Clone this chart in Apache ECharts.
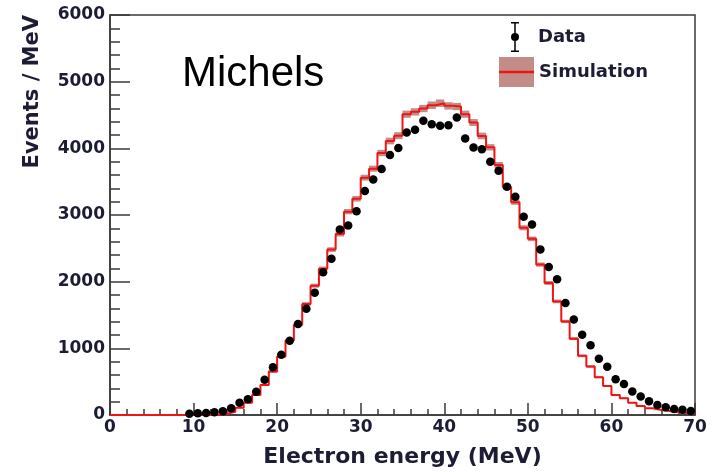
<!DOCTYPE html>
<html>
<head>
<meta charset="utf-8">
<style>
  html, body { margin: 0; padding: 0; background: #fff; }
  #main { width: 713px; height: 472px; }
</style>
<script src="https://cdn.jsdelivr.net/npm/echarts/dist/echarts.min.js"></script>
</head>
<body>
<div id="main"></div>
<script>
// 1 MeV bins, lower edges 0..69
var binLow = [0, 1, 2, 3, 4, 5, 6, 7, 8, 9, 10, 11, 12, 13, 14, 15, 16, 17, 18, 19,
  20, 21, 22, 23, 24, 25, 26, 27, 28, 29, 30, 31, 32, 33, 34, 35, 36, 37, 38, 39,
  40, 41, 42, 43, 44, 45, 46, 47, 48, 49, 50, 51, 52, 53, 54, 55, 56, 57, 58, 59,
  60, 61, 62, 63, 64, 65, 66, 67, 68, 69];
var binWidth = 1;

// simulation histogram (events / MeV), one per bin
var simVals = [0, 0, 0, 0, 0, 0, 0, 0, 0, 0, 0, 0, 0, 20, 50, 110, 185, 300, 451, 651,
  877, 1118, 1354, 1665, 1940, 2195, 2481, 2715, 3050, 3244, 3560, 3695, 3930, 4110, 4190, 4512, 4547, 4597, 4647, 4677,
  4637, 4627, 4512, 4387, 4186, 4015, 3750, 3420, 3193, 2808, 2642, 2256, 1981, 1704, 1403, 1145, 887, 727, 567, 436,
  301, 251, 185, 135, 100, 75, 60, 40, 30, 20];

// half height of the simulation uncertainty band
var simErr = [0, 0, 0, 0, 0, 0, 0, 0, 0, 0, 0, 0, 0, 4, 6, 8, 10, 12, 15, 18,
  20, 22, 25, 28, 30, 32, 35, 38, 40, 42, 44, 46, 48, 50, 52, 54, 55, 55, 56, 56,
  55, 55, 54, 52, 50, 48, 45, 42, 40, 38, 35, 32, 30, 28, 25, 22, 20, 18, 15, 12,
  10, 9, 8, 7, 5, 4, 4, 3, 3, 2];

// data points, bin centres 9.5 .. 69.5
var dataX = [9.5, 10.5, 11.5, 12.5, 13.5, 14.5, 15.5, 16.5, 17.5, 18.5, 19.5,
  20.5, 21.5, 22.5, 23.5, 24.5, 25.5, 26.5, 27.5, 28.5, 29.5,
  30.5, 31.5, 32.5, 33.5, 34.5, 35.5, 36.5, 37.5, 38.5, 39.5,
  40.5, 41.5, 42.5, 43.5, 44.5, 45.5, 46.5, 47.5, 48.5, 49.5,
  50.5, 51.5, 52.5, 53.5, 54.5, 55.5, 56.5, 57.5, 58.5, 59.5,
  60.5, 61.5, 62.5, 63.5, 64.5, 65.5, 66.5, 67.5, 68.5, 69.5];
var dataVals = [20, 25, 30, 40, 55, 100, 185, 235, 350, 527, 717,
  902, 1113, 1364, 1595, 1835, 2143, 2342, 2782, 2843, 3058,
  3359, 3534, 3690, 3900, 4005, 4237, 4277, 4412, 4362, 4337,
  4347, 4462, 4147, 4011, 3986, 3800, 3665, 3425, 3274, 2973,
  2858, 2482, 2221, 2035, 1680, 1434, 1203, 1045, 845, 722,
  537, 464, 351, 276, 205, 150, 115, 90, 80, 60];

var axisColor = "#3a3a3a";
var textColor = "#1c1c34";
var bandColor = "rgba(168, 92, 82, 0.7)";
var lineRed = "#f01414";

var myChart = echarts.init(document.getElementById("main"));

// step line: one point per lower edge plus the closing edge
var simLine = binLow.map(function(x, i) {
  return [x, simVals[i]];
});
simLine.push([binLow[binLow.length - 1] + binWidth, simVals[simVals.length - 1]]);

var bandData = binLow.map(function(x, i) {
  return [x, x + binWidth, simVals[i] - simErr[i], simVals[i] + simErr[i]];
});

var legendText = {
  fontFamily: "DejaVu Sans",
  fontWeight: "bold",
  fontSize: 18,
  color: textColor
};

myChart.setOption({
  animation: false,
  title: {
    text: "Michels",
    left: 177,
    top: 48,
    textStyle: {
      fontFamily: "Liberation Sans",
      fontWeight: "normal",
      fontSize: 42,
      color: "#000"
    }
  },
  legend: [
    {
      data: ["Data"],
      left: 511,
      top: 22,
      padding: 0,
      itemWidth: 36,
      itemHeight: 30,
      icon: "path://M4,0 H12 V1.5 H4 Z M7.25,0 H8.75 V30 H7.25 Z M4,28.5 H12 V30 H4 Z M4,15 A4,4 0 1,1 12,15 A4,4 0 1,1 4,15 Z",
      itemStyle: { color: "#000", opacity: 1 },
      textStyle: legendText
    },
    {
      data: ["Simulation"],
      left: 499,
      top: 57,
      padding: 0,
      itemWidth: 35,
      itemHeight: 30,
      icon: "rect",
      textStyle: legendText
    }
  ],
  // red line across the legend box
  graphic: [
    {
      type: "line",
      z: 100,
      shape: { x1: 499, y1: 72, x2: 534, y2: 72 },
      style: { stroke: lineRed, lineWidth: 2.5 }
    }
  ],
  grid: {
    left: 110,
    right: 18,
    top: 15,
    bottom: 57,
    show: true,
    borderColor: axisColor,
    borderWidth: 1.5,
    outerBoundsMode: "none"
  },
  xAxis: {
    type: "value",
    min: 0,
    max: 70,
    interval: 10,
    name: "Electron energy (MeV)",
    nameLocation: "middle",
    nameGap: 31,
    nameTextStyle: {
      fontFamily: "DejaVu Sans",
      fontWeight: "bold",
      fontSize: 22,
      color: textColor
    },
    axisLine: { show: true, onZero: false, lineStyle: { color: axisColor, width: 1.5 } },
    axisTick: { show: true, inside: true, length: 12, lineStyle: { color: axisColor, width: 1.5 } },
    minorTick: { show: true, splitNumber: 5, length: 6, lineStyle: { color: axisColor, width: 1.5 } },
    splitLine: { show: false },
    axisLabel: {
      margin: 4,
      fontFamily: "DejaVu Sans",
      fontWeight: "bold",
      fontSize: 17,
      color: textColor,
      showMinLabel: true,
      showMaxLabel: true
    }
  },
  yAxis: {
    type: "value",
    min: 0,
    max: 6000,
    interval: 1000,
    name: "Events / MeV",
    nameLocation: "end",
    nameGap: 0,
    nameRotate: 90,
    nameTextStyle: {
      align: "right",
      verticalAlign: "bottom",
      padding: [0, 0, 67, 0],
      fontFamily: "DejaVu Sans",
      fontWeight: "bold",
      fontSize: 21,
      color: textColor
    },
    axisLine: { show: true, onZero: false, lineStyle: { color: axisColor, width: 1.5 } },
    axisTick: { show: true, inside: true, length: 20, lineStyle: { color: axisColor, width: 1.5 } },
    minorTick: { show: true, splitNumber: 5, length: 10, lineStyle: { color: axisColor, width: 1.5 } },
    splitLine: { show: false },
    axisLabel: {
      margin: 5,
      fontFamily: "DejaVu Sans",
      fontWeight: "bold",
      fontSize: 17,
      color: textColor,
      formatter: function(v) {
        return String(v);
      }
    }
  },
  series: [
    {
      name: "Simulation",
      type: "custom",
      clip: true,
      itemStyle: { color: bandColor },
      renderItem: function(params, api) {
        var p0 = api.coord([api.value(0), api.value(3)]);
        var p1 = api.coord([api.value(1), api.value(2)]);
        return {
          type: "rect",
          shape: { x: p0[0], y: p0[1], width: p1[0] - p0[0], height: p1[1] - p0[1] },
          style: { fill: bandColor }
        };
      },
      encode: { x: [0, 1], y: [2, 3] },
      data: bandData,
      z: 2
    },
    {
      name: "Simulation line",
      type: "line",
      step: "end",
      showSymbol: false,
      data: simLine,
      lineStyle: { color: lineRed, width: 2 },
      itemStyle: { color: lineRed },
      z: 3
    },
    {
      name: "Data",
      type: "scatter",
      symbol: "circle",
      symbolSize: 8.5,
      itemStyle: { color: "#000", opacity: 1 },
      data: dataX.map(function(x, i) {
        return [x, dataVals[i]];
      }),
      z: 4
    }
  ]
});
</script>
</body>
</html>
